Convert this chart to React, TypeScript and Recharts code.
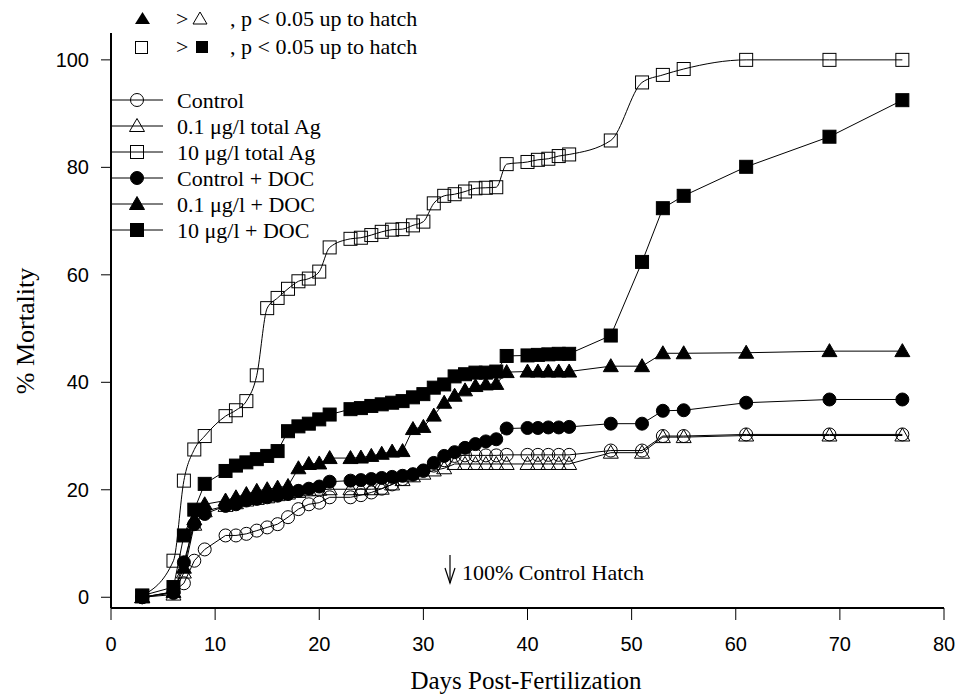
import React from 'react';
import { LineChart, Line, XAxis, YAxis } from 'recharts';

const days = [3, 6, 7, 8, 9, 11, 12, 13, 14, 15, 16, 17, 18, 19, 20, 21, 23, 24, 25, 26, 27, 28, 29, 30, 31, 32, 33, 34, 35, 36, 37, 38, 40, 41, 42, 43, 44, 48, 51, 53, 55, 61, 69, 76];

const control = [0, 1.0, 2.6, 6.8, 8.9, 11.5, 11.5, 11.8, 12.4, 13.0, 13.6, 14.9, 16.4, 17.3, 17.6, 18.6, 18.6, 19.0, 19.5, 20.2, 21.0, 22.0, 22.8, 23.5, 24.5, 25.5, 26.3, 26.4, 26.4, 26.4, 26.4, 26.5, 26.5, 26.5, 26.5, 26.5, 26.5, 27.3, 27.3, 30.0, 30.0, 30.3, 30.3, 30.3];
const ag01 = [0, 0.5, 4.6, 13.5, 16.0, 17.0, 17.5, 18.0, 18.3, 18.6, 19.0, 19.3, 19.6, 19.9, 20.0, 20.1, 20.1, 20.1, 20.1, 20.2, 21.0, 21.8, 22.5, 23.0, 23.6, 24.0, 24.8, 24.8, 24.8, 24.8, 24.8, 24.8, 24.8, 24.8, 24.8, 24.8, 24.8, 26.9, 26.9, 29.8, 29.8, 30.1, 30.1, 30.1];
const ag10 = [0.3, 6.8, 21.7, 27.5, 30.0, 33.7, 34.8, 36.5, 41.3, 53.8, 55.7, 57.4, 58.8, 59.3, 60.6, 65.1, 66.7, 66.9, 67.4, 68.0, 68.4, 68.5, 69.2, 69.9, 73.3, 74.7, 75.0, 75.5, 76.1, 76.2, 76.3, 80.6, 81.0, 81.4, 81.6, 82.1, 82.4, 85.0, 95.8, 97.2, 98.3, 100, 100, 100];
const controlDoc = [0, 0.8, 6.5, 13.6, 15.5, 17.0, 17.3, 18.0, 18.3, 18.6, 18.9, 19.2, 19.8, 20.2, 20.6, 21.5, 21.7, 21.8, 22.0, 22.2, 22.4, 22.6, 22.9, 23.6, 25.0, 26.3, 27.0, 27.8, 28.5, 29.0, 29.4, 31.4, 31.5, 31.5, 31.6, 31.6, 31.7, 32.3, 32.3, 34.7, 34.8, 36.2, 36.8, 36.8];
const ag01Doc = [0, 1.0, 5.5, 14.5, 17.3, 18.0, 18.6, 19.2, 19.8, 20.1, 20.4, 20.7, 24.0, 24.8, 24.9, 25.9, 25.9, 26.0, 26.3, 26.7, 27.1, 27.2, 31.3, 31.7, 33.8, 36.2, 37.5, 38.5, 39.3, 39.6, 39.7, 41.9, 42.0, 42.0, 42.0, 42.0, 42.0, 43.0, 43.0, 45.4, 45.4, 45.5, 45.8, 45.8];
const ag10Doc = [0.3, 1.9, 11.5, 16.3, 21.1, 23.5, 24.5, 25.1, 25.7, 26.3, 27.2, 30.9, 31.8, 32.3, 33.1, 34.0, 35.0, 35.2, 35.6, 35.9, 36.2, 36.5, 37.2, 37.8, 39.0, 39.6, 41.1, 41.5, 41.8, 41.8, 42.0, 44.9, 45.0, 45.1, 45.2, 45.3, 45.3, 48.7, 62.4, 72.4, 74.7, 80.1, 85.7, 92.5];

const xTicks = [0, 10, 20, 30, 40, 50, 60, 70, 80];
const yTicks = [0, 20, 40, 60, 80, 100];

const series = [
  { key: 'control', name: 'Control', shape: 'circle', filled: false, curve: 'linear' },
  { key: 'ag01', name: '0.1 \u03bcg/l total Ag', shape: 'triangle', filled: false, curve: 'linear' },
  { key: 'ag10', name: '10 \u03bcg/l total Ag', shape: 'square', filled: false, curve: 'monotone' },
  { key: 'controlDoc', name: 'Control + DOC', shape: 'circle', filled: true, curve: 'linear' },
  { key: 'ag01Doc', name: '0.1 \u03bcg/l + DOC', shape: 'triangle', filled: true, curve: 'linear' },
  { key: 'ag10Doc', name: '10 \u03bcg/l + DOC', shape: 'square', filled: true, curve: 'linear' },
];

const data = days.map((d, i) => ({
  day: d,
  control: control[i],
  ag01: ag01[i],
  ag10: ag10[i],
  controlDoc: controlDoc[i],
  ag01Doc: ag01Doc[i],
  ag10Doc: ag10Doc[i],
}));

const serif = '"Liberation Serif", "Times New Roman", serif';
const sans = '"Liberation Sans", Arial, sans-serif';

const Marker = ({ shape, filled, cx, cy }: any) => {
  const fill = filled ? '#000' : 'none';
  if (shape === 'circle') {
    return <circle cx={cx} cy={cy} r={6.5} fill={fill} stroke="#000" strokeWidth={1} />;
  }
  if (shape === 'square') {
    return <rect x={cx - 6.5} y={cy - 6.5} width={13} height={13} fill={fill} stroke="#000" strokeWidth={1} />;
  }
  return (
    <polygon
      points={`${cx},${cy - 7.5} ${cx - 7.5},${cy + 5.5} ${cx + 7.5},${cy + 5.5}`}
      fill={fill}
      stroke="#000"
      strokeWidth={1}
    />
  );
};

const makeDot = (shape: string, filled: boolean) => (props: any) => {
  const { cx, cy, key } = props;
  if (cx == null || cy == null) return <g key={key} />;
  return (
    <g key={key}>
      <Marker shape={shape} filled={filled} cx={cx} cy={cy} />
    </g>
  );
};

const renderLegend = () => (
  <svg width={240} height={160}>
    {series.map((s, i) => {
      const y = 12 + i * 26;
      return (
        <g key={s.key}>
          <line x1={0} y1={y} x2={51} y2={y} stroke="#000" strokeWidth={1} />
          <Marker shape={s.shape} filled={s.filled} cx={25} cy={y} />
          <text x={65} y={y} dominantBaseline="central" fontFamily={serif} fontSize={22} fill="#000">
            {s.name}
          </text>
        </g>
      );
    })}
  </svg>
);

export default function App() {
  return (
    <div style={{ position: 'absolute', left: 0, top: 0, width: 961, height: 697, background: '#fff' }}>
      <LineChart
        width={961}
        height={697}
        data={data}
        margin={{ top: 33, right: 17, left: 51, bottom: 49 }}
      >
        <XAxis
          type="number"
          dataKey="day"
          domain={[0, 80]}
          ticks={xTicks}
          tickSize={12}
          tickMargin={17}
          height={40}
          axisLine={{ stroke: '#000', strokeWidth: 2 }}
          tickLine={{ stroke: '#000', strokeWidth: 1 }}
          tick={{ fill: '#000', fontFamily: sans, fontSize: 20 }}
        />
        <YAxis
          type="number"
          domain={[-2, 105]}
          ticks={yTicks}
          tickSize={10}
          tickMargin={12}
          width={60}
          axisLine={{ stroke: '#000', strokeWidth: 2 }}
          tickLine={{ stroke: '#000', strokeWidth: 1 }}
          tick={{ fill: '#000', fontFamily: sans, fontSize: 20 }}
        />
        {series.map((s) => (
          <Line
            key={s.key}
            type={s.curve as any}
            dataKey={s.key}
            name={s.name}
            stroke="#000"
            strokeWidth={1}
            dot={makeDot(s.shape, s.filled)}
            activeDot={false}
            isAnimationActive={false}
          />
        ))}
      </LineChart>
      <div style={{ position: 'absolute', left: 112, top: 88 }}>{renderLegend()}</div>
      <svg width={961} height={697} style={{ position: 'absolute', left: 0, top: 0, pointerEvents: 'none' }}>
        <polygon points="142.5,12 135,24 150,24" fill="#000" />
        <text x={176} y={18} dominantBaseline="central" fontFamily={serif} fontSize={22}>&gt;</text>
        <polygon points="200,12 193,24 207,24" fill="none" stroke="#000" strokeWidth={1} />
        <text x={230} y={18} dominantBaseline="central" fontFamily={serif} fontSize={22}>, p &lt; 0.05 up to hatch</text>
        <rect x={135.5} y={41.5} width={12} height={12} fill="none" stroke="#000" strokeWidth={1} />
        <text x={176} y={46} dominantBaseline="central" fontFamily={serif} fontSize={22}>&gt;</text>
        <rect x={196} y={41} width={12} height={12} fill="#000" />
        <text x={230} y={46} dominantBaseline="central" fontFamily={serif} fontSize={22}>, p &lt; 0.05 up to hatch</text>
        <line x1={450} y1={555} x2={450} y2={583} stroke="#000" strokeWidth={1.2} />
        <polyline points="445,568 450,583 455,568" fill="none" stroke="#000" strokeWidth={1.2} />
        <text x={462} y={572} dominantBaseline="central" fontFamily={serif} fontSize={22}>100% Control Hatch</text>
        <text x={526} y={680} textAnchor="middle" dominantBaseline="central" fontFamily={serif} fontSize={25}>Days Post-Fertilization</text>
        <text
          x={25}
          y={331}
          textAnchor="middle"
          dominantBaseline="central"
          fontFamily={serif}
          fontSize={26}
          transform="rotate(-90 25 331)"
        >
          % Mortality
        </text>
      </svg>
    </div>
  );
}
